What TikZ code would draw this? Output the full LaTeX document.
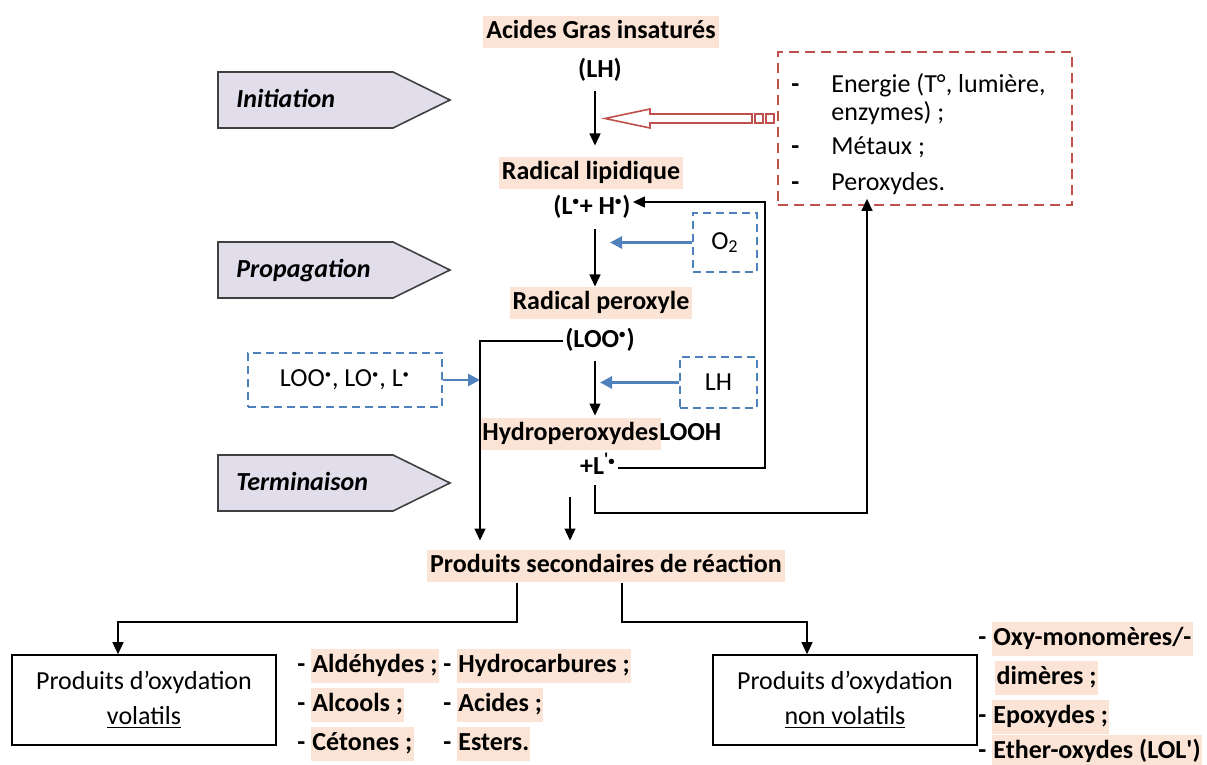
\documentclass[tikz,border=0pt]{standalone}
\usepackage{fontspec}
\usepackage{graphicx}
\setmainfont{Carlito}
\usetikzlibrary{arrows.meta,positioning,calc}
\definecolor{peach}{RGB}{251,228,213}
\definecolor{lilac}{RGB}{225,221,235}
\definecolor{brick}{RGB}{192,80,77}
\definecolor{steel}{RGB}{79,129,189}
\definecolor{ink}{RGB}{64,64,64}
\newcommand{\comma}{,}
\newcommand{\sz}{\fontsize{13}{15.6}\selectfont}
\newcommand{\rad}{\textsuperscript{\scalebox{0.7}{•}}}
\newcommand{\hlt}[1]{{\setlength{\fboxsep}{0.6pt}\colorbox{peach}{\strut #1}}}

\begin{document}
\begin{tikzpicture}[x=0.5pt,y=-0.5pt,font=\sz,
    lbl/.style={font=\sz\bfseries,inner sep=1pt,text height=10.5pt,text depth=4pt},
    hl/.style={lbl,fill=peach,inner ysep=0.8pt,inner xsep=1.5pt},
    flow/.style={-{Triangle[width=5.5pt,length=6pt]},line width=0.7pt},
    inflow/.style={-{Triangle[width=6pt,length=6pt]},draw=steel,line width=1.4pt},
    bluebox/.style={draw=steel,dash pattern=on 4pt off 2.5pt,line width=0.7pt},
    stage/.style={fill=lilac,draw=ink,line width=0.8pt},
    outbox/.style={draw,line width=0.8pt,minimum width=132pt,minimum height=45pt,align=center}]
  \useasboundingbox (0,0) rectangle (1207,765);

  % stages
  \foreach \t/\y [count=\i] in {Initiation/100,Propagation/270,Terminaison/483}
  {
    \draw[stage] (218,\y-28) -- (393,\y-28) -- (450,\y) -- (393,\y+28) -- (218,\y+28) -- cycle;
    \node[lbl,anchor=west,font=\sz\bfseries\itshape] (st\i) at (234,\y+1) {\t};
  }

  % main chain
  \coordinate (ax) at (595,0);
  \coordinate (leftx) at (480,0);
  \node[hl] (acides) at (601,32) {Acides Gras insaturés};
  \node[lbl] (lh) at (600,71) {(LH)};
  \node[hl] (radlip) at (591,173) {Radical lipidique};
  \node[lbl] (lradh) at (592,208) {(L\rad+ H\rad)};
  \node[hl] (radper) at (601,303) {Radical peroxyle};
  \node[lbl] (loo) at (600,341) {(LOO\rad)};
  \node[hl,anchor=west] (hydro) at (479,434) {Hydroperoxydes};
  \node[lbl,anchor=west,inner xsep=0pt] (looh) at ([xshift=-1.5pt]hydro.east) {LOOH};
  \node[lbl] (lprime) at (598,468) {+L\textsuperscript{\textquotesingle\scalebox{0.7}{•}}};
  \node[hl] (prod) at (606,566) {Produits secondaires de réaction};

  \draw[flow] ([yshift=-1.5pt]ax |- lh.south) -- ([yshift=5.5pt]ax |- radlip.north);
  \draw[flow] ([yshift=-2pt]ax |- lradh.south) -- (ax |- radper.north);
  \draw[flow] ([yshift=-1.5pt]ax |- loo.south) -- ([yshift=1pt]ax |- hydro.north);

  % causes
  \node[draw=brick,dash pattern=on 5pt off 3pt,line width=0.8pt,minimum width=147pt,minimum height=76.5pt] (cause) at (925,128.5) {};
  \foreach \t/\y [count=\i] in {Energie (T°\comma{} lumière\comma/86,enzymes) ;/114,Métaux ;/148,Peroxydes./184}
    \node[lbl,font=\sz,anchor=west,inner sep=0pt] (cause\i) at (831,\y) {\t};
  \node[lbl,anchor=west,inner sep=0pt] (dash1) at (791,86) {-};
  \node[lbl,anchor=west,inner sep=0pt] (dash3) at (791,148) {-};
  \node[lbl,anchor=west,inner sep=0pt] (dash4) at (791,184) {-};
  \draw[brick,line width=0.8pt,fill=white] (605,118.5) -- (650,109) -- (650,114) -- (752,114)
    -- (752,123) -- (650,123) -- (650,128) -- cycle;
  \draw[brick,line width=0.8pt] (755,114) rectangle (763,123) (766,114) rectangle (774,123);

  % reagents
  \node[bluebox,minimum width=32pt,minimum height=29.5pt] (o2) at (725,242.5) {O\textsubscript{2}};
  \node[bluebox,minimum width=38.5pt,minimum height=25.5pt] (lhin) at (718.5,382.5) {LH};
  \node[bluebox,minimum width=97pt,minimum height=27pt] (radicals) at (345,380) {LOO\rad, LO\rad, L\rad};
  \draw[inflow] (o2.west) -- ([xshift=7.5pt]ax |- o2.west);
  \draw[inflow] (lhin.west) -- ([xshift=2.5pt]ax |- lhin.west);
  \draw[inflow] (radicals.east) -- (leftx |- radicals.east);

  % loops
  \coordinate (loopR) at (765,470);
  \coordinate (bot) at (867,513);
  \coordinate (term) at (570,497);
  \draw[flow] (lprime.east) -- (lprime.east -| loopR) |- ([yshift=3pt]lradh.east);
  \draw[flow] (ax |- lprime.south) |- (bot) -- (bot |- cause4.south);
  \draw[flow] (loo.west) -| ([yshift=4.5pt]leftx |- prod.north);
  \draw[flow] (term) -- ([yshift=4.5pt]term |- prod.north);

  % products
  \node[outbox] (vol) at (144,700) {Produits d’oxydation\\[1.9pt]\underline{volatils}};
  \node[outbox] (nonvol) at (845,700) {Produits d’oxydation\\[1.9pt]\underline{non volatils}};
  \coordinate (elbowL) at (118,622);
  \coordinate (elbowR) at (807,622);
  \draw[flow] ([xshift=-44.5pt]prod.south) |- (elbowL) -- (elbowL |- vol.north);
  \draw[flow] ([xshift=8pt]prod.south) |- (elbowR) -- (elbowR |- nonvol.north);

  \foreach \t/\x/\y [count=\i] in {Aldéhydes ;/297/666,Alcools ;/297/705,Cétones ;/297/744,
      Hydrocarbures ;/443/666,Acides ;/443/705,Esters./443/744}
    \node[lbl,anchor=west,inner sep=0pt] (vola\i) at (\x,\y) {- \hlt{\t}};
  \node[lbl,anchor=west,inner sep=0pt] (nvol1) at (978,639) {- \hlt{Oxy-monomères/-}};
  \node[lbl,anchor=west,inner sep=0pt] (nvol2) at (995,678) {\hlt{dimères ;}};
  \node[lbl,anchor=west,inner sep=0pt] (nvol3) at (978,717) {- \hlt{Epoxydes ;}};
  \node[lbl,anchor=west,inner sep=0pt] (nvol4) at (978,752) {- \hlt{Ether-oxydes (LOL\textquotesingle)}};
\end{tikzpicture}
\end{document}
